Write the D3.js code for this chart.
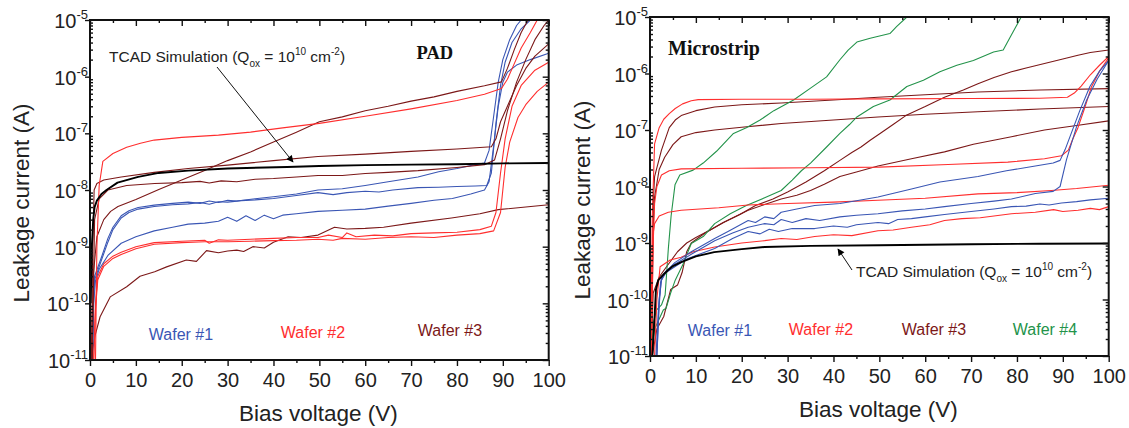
<!DOCTYPE html>
<html>
<head>
<meta charset="utf-8">
<script src="https://cdn.jsdelivr.net/npm/d3@7"></script>
<style>
  body { margin: 0; background: #fff; }
  svg { display: block; }
</style>
</head>
<body>
<svg id="fig" width="1129" height="428"></svg>
<script>
// ---------- axis definitions ----------
const voltageTicks = [0, 10, 20, 30, 40, 50, 60, 70, 80, 90, 100];
const voltageMinorTicks = [5, 15, 25, 35, 45, 55, 65, 75, 85, 95];
const currentTicks = [1e-11, 1e-10, 1e-9, 1e-8, 1e-7, 1e-6, 1e-5];
const currentTickExponents = ["-11", "-10", "-9", "-8", "-7", "-6", "-5"];

// ---------- PAD structures: [bias V, current A] ----------
const padSimulation = [[0.15,1e-10],[0.4,1e-9],[0.7,3e-9],[1,5e-9],[1.5,6.5e-9],[2.5,8.5e-9],[3.6,1e-8],[6,1.35e-8],[10.5,1.7e-8],[15,2e-8],[21.4,2.2e-8],[30,2.4e-8],[43,2.55e-8],[50,2.65e-8],[60,2.75e-8],[70,2.8e-8],[80,2.85e-8],[90,2.95e-8],[100,3e-8]];

const padWafer1a = [[0.5,1e-11],[0.8,1.5e-10],[1,3e-10],[2.5,6.5e-10],[3.9,1.4e-9],[5,2.2e-9],[6.8,3.5e-9],[8.5,4.3e-9],[10.5,4.9e-9],[14,5.4e-9],[18,5.8e-9],[21.4,6.1e-9],[24,5.8e-9],[26,6.4e-9],[28,6e-9],[30,6.6e-9],[32,6.4e-9],[36,7e-9],[40,7.6e-9],[45,8.5e-9],[49.7,1e-8],[55,1.05e-8],[60,1.2e-8],[65,1.4e-8],[71.5,1.7e-8],[76,2.1e-8],[80,2.4e-8],[84,2.8e-8],[86,3e-8],[87,5e-8],[88,2e-7],[89,8e-7],[90,2e-6],[91.5,4.5e-6],[93,8e-6],[94,1e-5]];
const padWafer1b = [[0.5,1e-11],[0.8,1.2e-10],[1,2.6e-10],[2.5,5.8e-10],[3.9,1.2e-9],[5,2e-9],[6.8,3.2e-9],[8.5,4e-9],[10.5,4.6e-9],[14,5.1e-9],[18,5.5e-9],[21.4,5.7e-9],[24,6e-9],[26,5.6e-9],[28,6.2e-9],[30,6.1e-9],[33,6.5e-9],[36,6.7e-9],[40,7.1e-9],[45,8e-9],[49.7,9e-9],[53,8.3e-9],[56,9e-9],[60,9.5e-9],[63,9.2e-9],[66,1e-8],[71.5,1.1e-8],[76,1.12e-8],[80,1.15e-8],[84,1.18e-8],[86.5,1.2e-8],[87.5,2e-8],[88.5,1.5e-7],[89.5,7e-7],[90.5,1.8e-6],[92,4e-6],[94,7e-6],[96,1e-5]];
const padWafer1c = [[0.5,1e-11],[0.8,1e-10],[1.2,2.5e-10],[2,4e-10],[3.9,7e-10],[6.8,1.15e-9],[10,1.5e-9],[14,1.9e-9],[18,2.2e-9],[21.4,2.5e-9],[25,2.6e-9],[28,2.8e-9],[30,3.3e-9],[32,2.8e-9],[34,3.5e-9],[36,2.9e-9],[38,3.6e-9],[40,3.1e-9],[42,3.6e-9],[45,3.8e-9],[49.7,4.2e-9],[55,4.4e-9],[60,4.6e-9],[65,5.2e-9],[70,5.8e-9],[75,6.6e-9],[79,7.1e-9],[83,8.5e-9],[86,1e-8],[87,1.4e-8],[88,6e-8],[89,3e-7],[90,8e-7],[91,1.2e-6],[93,1.6e-6],[96,2e-6],[100,2.6e-6]];

const padWafer2a = [[1.2,1e-11],[1.5,1e-9],[2,1.2e-8],[2.8,3.2e-8],[5,4.4e-8],[8,5.7e-8],[11,6.7e-8],[14,7.6e-8],[20,8.5e-8],[28,9.3e-8],[35,1.05e-7],[42,1.25e-7],[50,1.5e-7],[60,2e-7],[70,2.7e-7],[80,3.8e-7],[86,4.9e-7],[89.7,6.2e-7],[91,9e-7],[92.5,1.7e-6],[94,3.2e-6],[96,6e-6],[97.5,1e-5]];
const padWafer2b = [[0.8,1e-11],[1.2,1e-10],[1.7,3e-10],[3,5e-10],[5,6.8e-10],[6.8,8e-10],[10,1e-9],[14,1.18e-9],[20,1.25e-9],[25,1.3e-9],[26,1.15e-9],[28,1.32e-9],[30,1.3e-9],[35,1.35e-9],[40,1.4e-9],[45,1.45e-9],[49.7,1.45e-9],[52,1.6e-9],[55,1.45e-9],[56,1.75e-9],[58,1.5e-9],[62,1.6e-9],[66,1.55e-9],[70,1.7e-9],[75,1.75e-9],[80,1.8e-9],[85,2e-9],[87.5,2.3e-9],[88.5,4e-9],[89.5,2e-8],[90.5,8e-8],[92,3e-7],[94,7e-7],[97,1.3e-6],[100,1.8e-6]];
const padWafer2c = [[0.8,1e-11],[1.2,8e-11],[1.7,2.6e-10],[3,4.5e-10],[5,6.2e-10],[6.8,7.3e-10],[10,9.2e-10],[14,1.1e-9],[20,1.18e-9],[25,1.22e-9],[30,1.22e-9],[35,1.25e-9],[40,1.28e-9],[45,1.3e-9],[49.7,1.35e-9],[53,1.3e-9],[55,1.4e-9],[60,1.35e-9],[65,1.45e-9],[70,1.5e-9],[75,1.45e-9],[80,1.6e-9],[85,1.7e-9],[88,1.9e-9],[89.5,4e-9],[90.5,2.5e-8],[91.5,7e-8],[93.3,1.9e-7],[95,3.2e-7],[97.5,5.5e-7],[100,8e-7]];

const padWafer3a = [[0.3,1e-11],[0.7,3e-10],[1.5,1.5e-9],[3,3e-9],[4.5,4.2e-9],[6.1,5.1e-9],[10,6.8e-9],[15,1.02e-8],[20,1.5e-8],[25,2.2e-8],[30,3.3e-8],[35,4.7e-8],[40,7e-8],[45,1.05e-7],[50,1.6e-7],[55,1.95e-7],[60,2.5e-7],[65,3e-7],[70,3.7e-7],[75,4.4e-7],[80,5.5e-7],[86,6.9e-7],[89.7,8.1e-7],[91,1.4e-6],[92.5,3e-6],[94,6e-6],[95.5,1e-5]];
const padWafer3b = [[0.3,1e-11],[0.6,1e-9],[0.9,1e-8],[1.5,1.3e-8],[3,1.5e-8],[6.8,1.7e-8],[14,2.05e-8],[21.4,2.4e-8],[30,2.75e-8],[40,3.3e-8],[49.7,3.9e-8],[60,4.3e-8],[70,4.8e-8],[80,5.3e-8],[87.5,5.8e-8],[88.5,8e-8],[89.5,1.6e-7],[91,3e-7],[93,7e-7],[95,1.4e-6],[97,2.3e-6],[100,3.8e-6]];
const padWafer3c = [[0.5,1e-11],[1,3e-9],[2,7e-9],[3.9,1e-8],[8,1.2e-8],[14.1,1.3e-8],[20,1.35e-8],[24,1.42e-8],[26,1.33e-8],[28.6,1.45e-8],[32,1.4e-8],[36,1.55e-8],[40,1.6e-8],[45,1.7e-8],[49.7,1.8e-8],[55,1.8e-8],[60,1.95e-8],[65,2.05e-8],[71.5,2.2e-8],[80,2.5e-8],[86,2.8e-8],[88.2,3.4e-8],[89.5,8e-8],[91,2.5e-7],[93,8e-7],[95,2e-6],[97,4.5e-6],[99,8e-6],[100,1e-5]];
const padWafer3d = [[0.2,1e-11],[1.1,2.7e-11],[2.2,5.8e-11],[4.4,1.3e-10],[8,1.96e-10],[10.9,3e-10],[14.1,3.6e-10],[16.7,4.4e-10],[21,5.8e-10],[23.2,5.5e-10],[25.4,8.5e-10],[28,7.8e-10],[30,8.4e-10],[32,8.7e-10],[33.5,8.2e-10],[35.5,1e-9],[38,9.5e-10],[40,1.2e-9],[43.2,1.5e-9],[46,1.45e-9],[49.7,1.6e-9],[53.3,2.2e-9],[56,2.05e-9],[60,2.1e-9],[64,2.2e-9],[70,2.6e-9],[78.8,3.2e-9],[85,3.8e-9],[89,4.5e-9],[95,5e-9],[100,5.5e-9]];

// ---------- Microstrip structures: [bias V, current A] ----------
const msSimulation = [[0.5,1e-11],[1,5e-11],[1.3,1.5e-10],[1.8,2.2e-10],[3,2.8e-10],[3.9,3.3e-10],[5,3.9e-10],[6.8,4.6e-10],[10,5.8e-10],[14,6.9e-10],[20,7.8e-10],[25,8.5e-10],[35,8.9e-10],[50,9.1e-10],[70,9.5e-10],[85,9.7e-10],[100,9.8e-10]];

const msWafer1a = [[1.3,1e-11],[1.8,6e-11],[2.3,2e-10],[3,2.8e-10],[5.4,4.5e-10],[9,7e-10],[14.1,1.2e-9],[17,1.6e-9],[21.4,2.5e-9],[23,2.3e-9],[25,2.9e-9],[27,2.7e-9],[28.6,3.5e-9],[32,4e-9],[35.9,4.6e-9],[41.4,5e-9],[45,5.6e-9],[49.7,6.5e-9],[57,9e-9],[63.2,1.2e-8],[71.5,1.5e-8],[77.7,1.9e-8],[84,2.3e-8],[87.9,2.6e-8],[89.4,2.9e-8],[90.5,4.5e-8],[92.3,1.1e-7],[93.7,2.2e-7],[95.9,5.9e-7],[98,1.1e-6],[100,1.7e-6]];
const msWafer1b = [[1.5,1e-11],[2,8e-11],[2.5,2.5e-10],[3.5,3.2e-10],[5.4,4.2e-10],[9,6.3e-10],[14.1,1.1e-9],[18,1.5e-9],[21.4,1.9e-9],[25,2.2e-9],[27,2.1e-9],[28.6,2.6e-9],[31,2.3e-9],[34,2.7e-9],[37,2.5e-9],[41.4,2.9e-9],[45,3.1e-9],[49.7,3.3e-9],[55,3.7e-9],[60,4e-9],[64.2,4.4e-9],[70,5e-9],[75,5.5e-9],[78.8,6e-9],[84,7.5e-9],[87.9,8.2e-9],[89.4,1e-8],[90.8,3e-8],[93,1.15e-7],[95.2,3.4e-7],[97.5,8e-7],[100,1.7e-6]];
const msWafer1c = [[1.5,1e-11],[2,1e-10],[2.5,2.2e-10],[3.5,3e-10],[5.4,3.8e-10],[8,5.2e-10],[10,6e-10],[14.1,8e-10],[18,1.2e-9],[21.4,1.6e-9],[24,1.45e-9],[26,1.75e-9],[28,1.6e-9],[31,1.8e-9],[35.9,1.8e-9],[40,2e-9],[43,1.9e-9],[45,2.1e-9],[49.7,2.3e-9],[52,2.2e-9],[54,2.6e-9],[57,2.7e-9],[60,2.9e-9],[64.2,3.2e-9],[70,3.6e-9],[75,4e-9],[78.8,4.4e-9],[82,4.5e-9],[85,4.9e-9],[87,4.7e-9],[89.7,5.1e-9],[93,5.4e-9],[96,5.8e-9],[100,6.2e-9]];

const msWafer2a = [[0.2,1e-11],[0.5,3e-9],[1,5.7e-8],[2,1.1e-7],[3,1.55e-7],[4.2,1.95e-7],[5.5,2.4e-7],[7.1,2.9e-7],[9,3.3e-7],[10.5,3.45e-7],[20,3.5e-7],[35,3.5e-7],[50,3.55e-7],[70,3.6e-7],[85,3.65e-7],[91,3.8e-7],[92.5,4.5e-7],[94,6e-7],[96,9.5e-7],[98,1.4e-6],[100,2e-6]];
const msWafer2b = [[0.3,1e-11],[0.7,1e-9],[1,5e-9],[1.5,1e-8],[2.5,1.6e-8],[4.2,1.9e-8],[6.8,2.05e-8],[20,2.1e-8],[35,2.15e-8],[50,2.2e-8],[65,2.45e-8],[78,2.7e-8],[86,3.1e-8],[89.7,3.5e-8],[91.2,4.4e-8],[92.2,7e-8],[93.3,1.1e-7],[94.8,2.5e-7],[96.2,5.7e-7],[98,1.1e-6],[100,1.9e-6]];
const msWafer2c = [[0.2,1e-11],[0.4,3e-10],[0.7,1.5e-9],[1,2.2e-9],[2,3e-9],[4,3.5e-9],[6.8,3.8e-9],[15,4.2e-9],[21.4,4.7e-9],[30,5e-9],[40,5.3e-9],[49.7,5.7e-9],[60,6.2e-9],[71.5,7.4e-9],[80,7.8e-9],[87.5,8.5e-9],[93,9.2e-9],[100,1.05e-8]];
const msWafer2d = [[1,1e-11],[1.5,1e-10],[2.2,3.8e-10],[4.4,5e-10],[6.8,5.6e-10],[9.4,7e-10],[14.1,8.5e-10],[20,1e-9],[25,1.1e-9],[28.6,1.2e-9],[32,1.15e-9],[35.9,1.3e-9],[40,1.4e-9],[44,1.35e-9],[49.7,1.65e-9],[53,1.7e-9],[57,1.9e-9],[61,2.1e-9],[64.2,2.5e-9],[68,2.7e-9],[72,2.8e-9],[78.8,3.3e-9],[84,3.5e-9],[88,3.9e-9],[90,3.6e-9],[93.3,3.8e-9],[96,4.1e-9],[98,3.9e-9],[100,4.4e-9]];

const msWafer3a = [[0.3,1e-11],[0.7,5e-9],[1,1.5e-8],[2.5,4.4e-8],[4.2,1.1e-7],[5.5,1.5e-7],[6.8,1.8e-7],[10,2.2e-7],[14.1,2.55e-7],[20,2.8e-7],[28.6,3e-7],[40,3.4e-7],[49.7,3.8e-7],[60,4.2e-7],[71.5,4.7e-7],[85,5.1e-7],[100,5.4e-7]];
const msWafer3b = [[0.3,1e-11],[0.7,2e-9],[1,6.5e-9],[2,2e-8],[3.2,3.3e-8],[5,5.5e-8],[6.8,7.6e-8],[10,9e-8],[14.1,1e-7],[20,1.12e-7],[28.6,1.3e-7],[40,1.5e-7],[49.7,1.7e-7],[60,1.9e-7],[71.5,2.1e-7],[85,2.35e-7],[100,2.6e-7]];
const msWafer3c = [[0.2,1e-11],[0.7,1.3e-10],[2,2.5e-10],[3.6,3.8e-10],[6,7e-10],[8,1e-9],[10,1.25e-9],[13.1,1.7e-9],[16,2.3e-9],[19.6,3.2e-9],[23,4.6e-9],[26.8,6e-9],[30,8e-9],[34,1.2e-8],[38,1.9e-8],[41.4,2.9e-8],[44,4e-8],[46,5e-8],[48,6.6e-8],[50,8.5e-8],[53,1.25e-7],[56,1.85e-7],[60,2.6e-7],[64.2,3.8e-7],[68.3,5.1e-7],[71.5,6.6e-7],[75,8.5e-7],[78.8,1.07e-6],[82,1.25e-6],[86,1.5e-6],[90,1.8e-6],[93.3,2.1e-6],[96,2.35e-6],[100,2.6e-6]];
const msWafer3d = [[0.5,1e-11],[1.5,3e-11],[3,5e-11],[4.5,1.5e-10],[6,1.8e-10],[7,3e-10],[8,7e-10],[9,1e-9],[12,1.5e-9],[16,2.3e-9],[21.4,3.8e-9],[25,4.8e-9],[28.6,6e-9],[32,7e-9],[35,8.5e-9],[38,1.1e-8],[41.4,1.5e-8],[45,1.8e-8],[49.7,2.3e-8],[57,3.1e-8],[64.2,4.1e-8],[70.5,5.6e-8],[78.8,7.6e-8],[86,1e-7],[93,1.2e-7],[100,1.45e-7]];

const msWafer4a = [[0.2,1e-11],[0.8,4e-11],[1.4,6.5e-11],[2.5,8e-11],[3.3,1.2e-10],[4,8e-10],[4.6,3e-9],[5.45,1.07e-8],[6.5,1.6e-8],[9.4,1.95e-8],[11.6,2.6e-8],[14.5,4.2e-8],[18.2,8.7e-8],[21,1.1e-7],[24,1.5e-7],[27,2.2e-7],[31.3,3.4e-7],[35,5.5e-7],[38.5,8.7e-7],[41.4,1.75e-6],[43.2,2.6e-6],[45.1,3.6e-6],[48,4.2e-6],[52.3,5.1e-6],[53.8,6.8e-6],[56,1e-5],[62,1e-5]];
const msWafer4b = [[0.3,1e-11],[1,3e-11],[2.9,6.5e-11],[3.5,7e-11],[4.5,1.3e-10],[5.5,2.2e-10],[7.3,4.4e-10],[9,9.8e-10],[11.6,1.3e-9],[14.1,2.2e-9],[17.5,3.3e-9],[21,4.6e-9],[25,6.3e-9],[28.6,8.5e-9],[31,1.3e-8],[33,1.9e-8],[35,2.6e-8],[38.5,5e-8],[41.4,8.7e-8],[43.5,1.25e-7],[45.1,1.7e-7],[48.7,2.6e-7],[52.3,3.4e-7],[56,5.9e-7],[59.6,7.6e-7],[63.2,1.07e-6],[66.9,1.4e-6],[70.5,1.7e-6],[74.9,2.4e-6],[77,2.6e-6],[78.6,4.5e-6],[81.2,1.1e-5]];

// ---------- styling ----------
const SANS = '"Liberation Sans", Arial, Helvetica, sans-serif';
const SERIF = '"Liberation Serif", "Times New Roman", serif';
const C = { w1: "#3a56b4", w2: "#ff2e2e", w3: "#7c1818", w4: "#23934a", sim: "#000000", text: "#222222" };

const svg = d3.select("#fig");
const defs = svg.append("defs");
defs.append("marker")
  .attr("id", "arrow").attr("viewBox", "0 0 10 10")
  .attr("refX", 9).attr("refY", 5)
  .attr("markerWidth", 9).attr("markerHeight", 7)
  .attr("markerUnits", "userSpaceOnUse")
  .attr("orient", "auto")
  .append("path").attr("d", "M0,0 L10,5 L0,10 Z").attr("fill", "#000");

const minorCurrentTicks = [];
currentTicks.slice(0, -1).forEach(v => { for (let k = 2; k <= 9; k++) minorCurrentTicks.push(v * k); });

function drawPanel(cfg) {
  const x = d3.scaleLinear().domain([0, 100]).range([cfg.left, cfg.right]);
  const y = d3.scaleLog().domain([1e-11, 1e-5]).range([cfg.bottom, cfg.top]);
  const g = svg.append("g");

  defs.append("clipPath").attr("id", cfg.id)
    .append("rect").attr("x", cfg.left).attr("y", cfg.top)
    .attr("width", cfg.right - cfg.left).attr("height", cfg.bottom - cfg.top);

  const line = d3.line().x(d => x(d[0])).y(d => y(d[1]));
  const plot = g.append("g").attr("clip-path", `url(#${cfg.id})`);
  cfg.series.forEach(s => {
    plot.append("path").attr("d", line(s.data))
      .attr("fill", "none").attr("stroke", s.color)
      .attr("stroke-width", s.width || 1.1)
      .attr("stroke-linejoin", "round");
  });

  // axes
  const addAxis = (axis, tx, ty) => {
    const a = g.append("g").attr("transform", `translate(${tx},${ty})`).call(axis);
    a.select(".domain").remove();
    a.selectAll(".tick line").attr("stroke", "#111").attr("stroke-width", 1.4);
    return a;
  };
  const bottomAxis = addAxis(d3.axisBottom(x).tickValues(voltageTicks).tickSize(6).tickPadding(7), 0, cfg.bottom);
  bottomAxis.selectAll("text").attr("font-family", SANS).attr("font-size", 20).attr("fill", C.text);
  addAxis(d3.axisBottom(x).tickValues(voltageMinorTicks).tickSize(3).tickFormat(""), 0, cfg.bottom);
  addAxis(d3.axisTop(x).tickValues(voltageTicks).tickSize(-6).tickFormat(""), 0, cfg.top);
  addAxis(d3.axisTop(x).tickValues(voltageMinorTicks).tickSize(-3).tickFormat(""), 0, cfg.top);
  addAxis(d3.axisLeft(y).tickValues(currentTicks).tickSize(5).tickFormat(""), cfg.left, 0);
  addAxis(d3.axisLeft(y).tickValues(minorCurrentTicks).tickSize(-3).tickFormat(""), cfg.left, 0);
  addAxis(d3.axisRight(y).tickValues(currentTicks).tickSize(-6).tickFormat(""), cfg.right, 0);
  addAxis(d3.axisRight(y).tickValues(minorCurrentTicks).tickSize(-3).tickFormat(""), cfg.right, 0);

  // power-of-ten tick labels
  currentTicks.forEach((v, i) => {
    const t = g.append("text")
      .attr("x", cfg.left - 2).attr("y", y(v) + 8)
      .attr("text-anchor", "end").attr("font-family", SANS)
      .attr("font-size", 20).attr("fill", C.text);
    t.append("tspan").text("10");
    t.append("tspan").attr("dy", -9).attr("font-size", 13).text(currentTickExponents[i]);
  });

  // frame
  g.append("rect").attr("x", cfg.left).attr("y", cfg.top)
    .attr("width", cfg.right - cfg.left).attr("height", cfg.bottom - cfg.top)
    .attr("fill", "none").attr("stroke", "#111").attr("stroke-width", 2);

  // axis titles
  g.append("text").attr("x", (cfg.left + cfg.right) / 2 - 1).attr("y", cfg.xTitleY)
    .attr("text-anchor", "middle").attr("font-family", SANS).attr("font-size", 22.5)
    .attr("fill", C.text).text("Bias voltage (V)");
  g.append("text")
    .attr("transform", `translate(${cfg.yTitleX},${cfg.yTitleCY}) rotate(-90)`)
    .attr("text-anchor", "middle").attr("font-family", SANS).attr("font-size", 22.5)
    .attr("fill", C.text).text("Leakage current (A)");

  // structure name
  g.append("text").attr("x", cfg.nameX).attr("y", cfg.nameY)
    .attr("font-family", SERIF).attr("font-weight", "bold")
    .attr("font-size", cfg.nameSize).attr("fill", "#111").text(cfg.name);

  // wafer labels
  cfg.waferLabels.forEach(w => {
    g.append("text").attr("x", w.x).attr("y", w.y).attr("text-anchor", "middle")
      .attr("font-family", SANS).attr("font-size", 16).attr("fill", w.color).text(w.text);
  });

  // simulation annotation
  const s = cfg.sim;
  const t = g.append("text").attr("x", s.tx).attr("y", s.ty)
    .attr("font-family", SANS).attr("font-size", 15.5).attr("fill", C.text);
  t.append("tspan").text("TCAD Simulation (Q");
  t.append("tspan").attr("dy", 5).attr("font-size", 10).text("ox");
  t.append("tspan").attr("dy", -5).text(" = 10");
  t.append("tspan").attr("dy", -7).attr("font-size", 10).text("10");
  t.append("tspan").attr("dy", 7).text(" cm");
  t.append("tspan").attr("dy", -7).attr("font-size", 10).text("-2");
  t.append("tspan").attr("dy", 7).text(")");
  g.append("line").attr("x1", s.ax1).attr("y1", s.ay1).attr("x2", s.ax2).attr("y2", s.ay2)
    .attr("stroke", "#111").attr("stroke-width", 1).attr("marker-end", "url(#arrow)");
}

drawPanel({
  id: "clip-pad", left: 90, right: 548.7, top: 20, bottom: 360,
  xTitleY: 421, yTitleX: 29, yTitleCY: 203,
  name: "PAD", nameX: 416.5, nameY: 59, nameSize: 18.5,
  series: [
    { data: padWafer3d, color: C.w3 },
    { data: padWafer2b, color: C.w2 },
    { data: padWafer2c, color: C.w2 },
    { data: padWafer1c, color: C.w1 },
    { data: padWafer1b, color: C.w1 },
    { data: padWafer1a, color: C.w1 },
    { data: padWafer3c, color: C.w3 },
    { data: padWafer3b, color: C.w3 },
    { data: padWafer3a, color: C.w3 },
    { data: padWafer2a, color: C.w2 },
    { data: padSimulation, color: C.sim, width: 1.9 }
  ],
  waferLabels: [
    { text: "Wafer #1", x: 181, y: 340, color: C.w1 },
    { text: "Wafer #2", x: 313, y: 338, color: C.w2 },
    { text: "Wafer #3", x: 450, y: 336, color: C.w3 }
  ],
  sim: { tx: 109, ty: 61.5, ax1: 217, ay1: 67, ax2: 293, ay2: 162 }
});

drawPanel({
  id: "clip-ms", left: 650, right: 1108.7, top: 17, bottom: 356,
  xTitleY: 417, yTitleX: 590, yTitleCY: 200,
  name: "Microstrip", nameX: 668, nameY: 55, nameSize: 20,
  series: [
    { data: msWafer3d, color: C.w3 },
    { data: msWafer3c, color: C.w3 },
    { data: msWafer3b, color: C.w3 },
    { data: msWafer3a, color: C.w3 },
    { data: msWafer4b, color: C.w4 },
    { data: msWafer4a, color: C.w4 },
    { data: msWafer2d, color: C.w2 },
    { data: msWafer2c, color: C.w2 },
    { data: msWafer2b, color: C.w2 },
    { data: msWafer2a, color: C.w2 },
    { data: msWafer1c, color: C.w1 },
    { data: msWafer1b, color: C.w1 },
    { data: msWafer1a, color: C.w1 },
    { data: msSimulation, color: C.sim, width: 1.9 }
  ],
  waferLabels: [
    { text: "Wafer #1", x: 720, y: 336, color: C.w1 },
    { text: "Wafer #2", x: 821, y: 335, color: C.w2 },
    { text: "Wafer #3", x: 934, y: 335, color: C.w3 },
    { text: "Wafer #4", x: 1045, y: 335, color: C.w4 }
  ],
  sim: { tx: 856, ty: 277, ax1: 852, ay1: 270, ax2: 838, ay2: 249 }
});
</script>
</body>
</html>
